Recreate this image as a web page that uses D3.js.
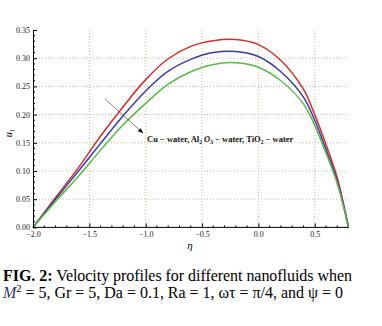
<!DOCTYPE html>
<html>
<head>
<meta charset="utf-8">
<script src="https://cdn.jsdelivr.net/npm/d3@7"></script>
<style>
  body { margin: 0; background: #fff; }
  svg { display: block; }
</style>
</head>
<body>
<svg id="chart" width="382" height="326"></svg>
<script>
// Velocity profiles u1(eta) for three nanofluids
const eta = [-2.0, -1.8, -1.6, -1.4, -1.2, -1.0, -0.8, -0.6, -0.4, -0.2, 0.0, 0.2, 0.4, 0.5, 0.6, 0.7, 0.8];
const cuWater    = [0, 0.053, 0.105, 0.162, 0.214, 0.262, 0.299, 0.321, 0.331, 0.333, 0.324, 0.296, 0.245, 0.200, 0.147, 0.088, 0];
const al2o3Water = [0, 0.050, 0.099, 0.149, 0.198, 0.242, 0.277, 0.298, 0.310, 0.312, 0.303, 0.276, 0.231, 0.190, 0.138, 0.082, 0];
const tio2Water  = [0, 0.046, 0.090, 0.137, 0.182, 0.220, 0.254, 0.276, 0.289, 0.292, 0.284, 0.260, 0.219, 0.181, 0.132, 0.078, 0];

const xMajor = [-2.0, -1.5, -1.0, -0.5, 0.0, 0.5];
const yMajor = [0.00, 0.05, 0.10, 0.15, 0.20, 0.25, 0.30, 0.35];
const xGrid = [-1.5, -1.0, -0.5, 0.0, 0.5];
const yGrid = [0.05, 0.10, 0.15, 0.20, 0.25, 0.30];

const series = [
  { name: "Cu-water", values: cuWater, color: "#dd2a2a" },
  { name: "Al2O3-water", values: al2o3Water, color: "#3a3aa8" },
  { name: "TiO2-water", values: tio2Water, color: "#55bb44" }
];

const svg = d3.select("#chart");
const x = d3.scaleLinear().domain([-2.0, 0.8]).range([33, 348.5]);
const y = d3.scaleLinear().domain([0, 0.35]).range([227.4, 30]);

const serif = "'Liberation Serif', 'Times New Roman', serif";

// dotted grid
const grid = svg.append("g").attr("stroke", "#c9b898").attr("stroke-width", 1)
  .attr("stroke-dasharray", "1,2");
grid.selectAll("line.v").data(xGrid).join("line").attr("class", "v")
  .attr("x1", d => x(d)).attr("x2", d => x(d)).attr("y1", y(0.35)).attr("y2", y(0));
grid.selectAll("line.h").data(yGrid).join("line").attr("class", "h")
  .attr("x1", x(-2)).attr("x2", x(0.8)).attr("y1", d => y(d)).attr("y2", d => y(d));

// curves
const line = d3.line().x((d, i) => x(eta[i])).y(d => y(d)).curve(d3.curveCatmullRom.alpha(0.5));
svg.append("g").selectAll("path").data(series).join("path")
  .attr("d", d => line(d.values))
  .attr("fill", "none")
  .attr("stroke", d => d.color)
  .attr("stroke-width", 1.5);

// axes with inward ticks
const fmt = d => (d < 0 ? "\u2212" : "") + Math.abs(d).toFixed(1);
const xAxis = d3.axisBottom(x).tickValues(xMajor).tickSize(-4).tickFormat(fmt).tickSizeOuter(0);
const gx = svg.append("g").attr("transform", `translate(0,${y(0)})`).call(xAxis);
gx.select(".domain").attr("d", `M${x(-2)},0H${x(0.8)}`);
gx.selectAll("text").attr("y", 4).attr("dy", "0.71em");

const yAxis = d3.axisLeft(y).tickValues(yMajor).tickSize(-4).tickFormat(d3.format(".2f")).tickSizeOuter(0);
const gy = svg.append("g").attr("transform", `translate(${x(-2)},0)`).call(yAxis);
gy.selectAll("text").attr("x", -3);

[gx, gy].forEach(g => {
  g.selectAll("text").attr("font-family", serif).attr("font-size", 8).attr("fill", "#222");
  g.selectAll("line, path").attr("stroke", "#000");
});

// minor ticks
const offMajor = (v, step) => Math.abs(v / step - Math.round(v / step)) > 1e-6;
const xMinor = d3.range(-19, 8).map(i => i / 10).filter(v => offMajor(v, 0.5));
svg.append("g").selectAll("line").data(xMinor).join("line")
  .attr("x1", d => x(d)).attr("x2", d => x(d)).attr("y1", y(0)).attr("y2", y(0) - 2)
  .attr("stroke", "#000");
const yMinor = d3.range(1, 35).map(i => i / 100).filter(v => offMajor(v, 0.05));
svg.append("g").selectAll("line").data(yMinor).join("line")
  .attr("x1", x(-2)).attr("x2", x(-2) + 2).attr("y1", d => y(d)).attr("y2", d => y(d))
  .attr("stroke", "#000");

// axis titles
svg.append("text").attr("transform", "translate(12,133) rotate(-90)")
  .attr("text-anchor", "middle").attr("font-family", serif).attr("font-size", 10)
  .call(t => {
    t.append("tspan").attr("font-style", "italic").text("u");
    t.append("tspan").attr("font-size", 6.5).attr("dy", 2).text("1");
  });
svg.append("text").attr("x", 190).attr("y", 249).attr("text-anchor", "middle")
  .attr("font-family", serif).attr("font-style", "italic").attr("font-size", 11).text("\u03b7");

// annotation arrow
svg.append("defs").append("marker").attr("id", "head")
  .attr("viewBox", "0 0 10 10").attr("refX", 9).attr("refY", 5)
  .attr("markerWidth", 8).attr("markerHeight", 8).attr("orient", "auto")
  .append("path").attr("d", "M0,1.5L10,5L0,8.5Z").attr("fill", "#000");
svg.append("line").attr("x1", 105).attr("y1", 99).attr("x2", 143).attr("y2", 133)
  .attr("stroke", "#444").attr("stroke-width", 0.7).attr("marker-end", "url(#head)");

const ann = svg.append("text").attr("x", 147).attr("y", 142)
  .attr("font-family", serif).attr("font-size", 8.5).attr("font-weight", "bold").attr("fill", "#111");
ann.append("tspan").text("Cu \u2212 water,  Al");
ann.append("tspan").attr("font-size", 5.5).attr("dy", 2).text("2");
ann.append("tspan").attr("dy", -2).attr("font-style", "italic").text(" O");
ann.append("tspan").attr("font-size", 5.5).attr("dy", 2).text("3");
ann.append("tspan").attr("dy", -2).text(" \u2212 water,  TiO");
ann.append("tspan").attr("font-size", 5.5).attr("dy", 2).text("2");
ann.append("tspan").attr("dy", -2).text(" \u2212 water");

// caption
const cap1 = svg.append("text").attr("x", 3).attr("y", 281)
  .attr("font-family", serif).attr("font-size", 16).attr("fill", "#000")
  .attr("textLength", 349).attr("lengthAdjust", "spacing");
cap1.append("tspan").attr("font-weight", "bold").text("FIG. 2:");
cap1.append("tspan").text(" Velocity profiles for different nanofluids when");

const cap2 = svg.append("text").attr("x", 3).attr("y", 298)
  .attr("font-family", serif).attr("font-size", 16).attr("fill", "#000")
  .attr("textLength", 340).attr("lengthAdjust", "spacing");
cap2.append("tspan").attr("font-style", "italic").attr("fill", "#333366").text("M");
cap2.append("tspan").attr("font-size", 10.5).attr("dy", -6).text("2");
cap2.append("tspan").attr("dy", 6).text(" = 5, Gr = 5, Da = 0.1, Ra = 1, \u03c9\u03c4 = \u03c0/4, and \u03c8 = 0");
</script>
</body>
</html>
